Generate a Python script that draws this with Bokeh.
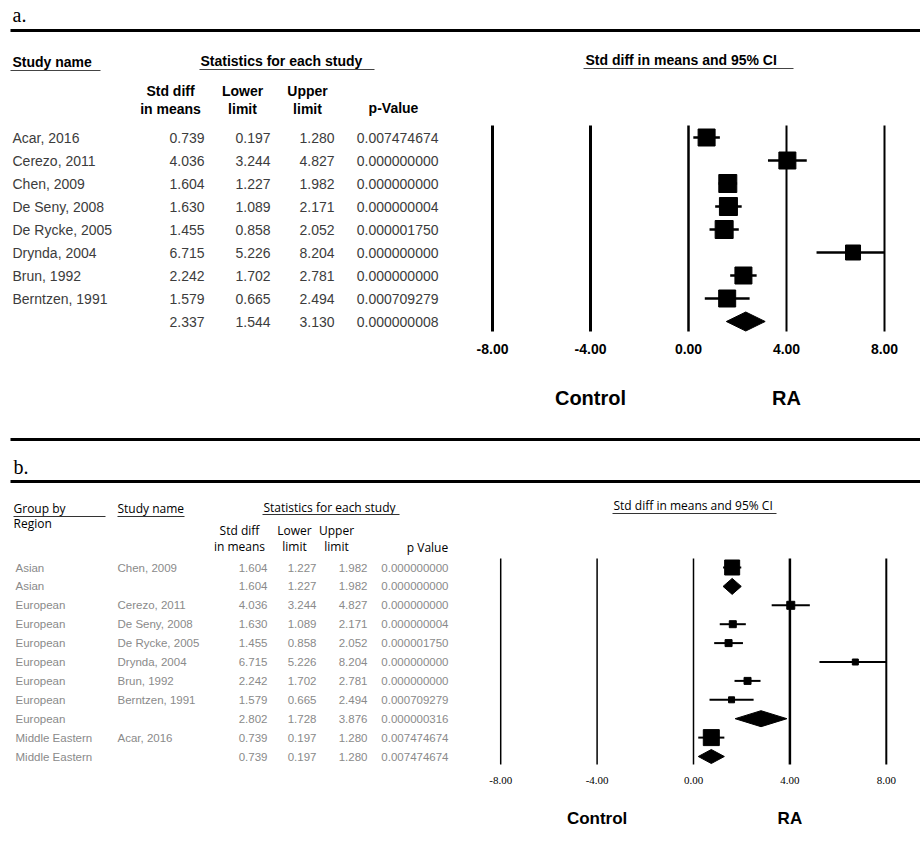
from bokeh.plotting import figure
from bokeh.models import Range1d, ColumnDataSource
from bokeh.core.properties import value
from bokeh.embed import file_html
from bokeh.resources import INLINE

# ---------------- data: panel a ----------------
studies_a = ["Acar, 2016", "Cerezo, 2011", "Chen, 2009", "De Seny, 2008",
             "De Rycke, 2005", "Drynda, 2004", "Brun, 1992", "Berntzen, 1991"]
smd_a = [0.739, 4.036, 1.604, 1.630, 1.455, 6.715, 2.242, 1.579]
lo_a = [0.197, 3.244, 1.227, 1.089, 0.858, 5.226, 1.702, 0.665]
hi_a = [1.280, 4.827, 1.982, 2.171, 2.052, 8.204, 2.781, 2.494]
p_a = ["0.007474674", "0.000000000", "0.000000000", "0.000000004",
       "0.000001750", "0.000000000", "0.000000000", "0.000709279"]
pooled_a = [2.337, 1.544, 3.130]
pooled_p_a = "0.000000008"

# ---------------- data: panel b ----------------
group_b = ["Asian", "Asian", "European", "European", "European", "European",
           "European", "European", "European", "Middle Eastern", "Middle Eastern"]
study_b = ["Chen, 2009", "", "Cerezo, 2011", "De Seny, 2008", "De Rycke, 2005",
           "Drynda, 2004", "Brun, 1992", "Berntzen, 1991", "", "Acar, 2016", ""]
smd_b = [1.604, 1.604, 4.036, 1.630, 1.455, 6.715, 2.242, 1.579, 2.802, 0.739, 0.739]
lo_b = [1.227, 1.227, 3.244, 1.089, 0.858, 5.226, 1.702, 0.665, 1.728, 0.197, 0.197]
hi_b = [1.982, 1.982, 4.827, 2.171, 2.052, 8.204, 2.781, 2.494, 3.876, 1.280, 1.280]
p_b = ["0.000000000", "0.000000000", "0.000000000", "0.000000004", "0.000001750",
       "0.000000000", "0.000000000", "0.000709279", "0.000000316", "0.007474674",
       "0.007474674"]
is_summary_b = [False, True, False, False, False, False, False, False, True, False, True]

ticks = [-8.0, -4.0, 0.0, 4.0, 8.0]
AX_MIN, AX_MAX = -8.0, 8.0

# marker sizes (px) as drawn in reference (study weights)
sq_size_a = [17, 17, 18, 18, 18, 15, 17, 17]
sq_size_b = [15, 0, 8, 7, 7, 6, 7, 6, 0, 16, 0]

# ---------------- layout helpers ----------------
OFF = 0
W, H = 920, 852
A_X0, A_SX, A_Y0, A_SY = 688.0, 24.5, 137.0, 23.0
B_X0, B_SX, B_Y0, B_SY = 693.0, 24.1, 567.0, 18.9


def ax(px):
    return (px - OFF - A_X0) / A_SX


def ay(py):
    return (py - OFF - A_Y0) / A_SY


def bx(px):
    return (px - OFF - B_X0) / B_SX


def by(py):
    return (py - OFF - B_Y0) / B_SY


p = figure(width=W, height=H,
           x_range=Range1d(ax(OFF), ax(OFF + W)),
           y_range=Range1d(ay(OFF + H), ay(OFF)),
           x_axis_location=None, y_axis_location=None,
           output_backend="svg", toolbar_location=None, min_border=0)
p.extra_x_ranges = {"xb": Range1d(bx(OFF), bx(OFF + W))}
p.extra_y_ranges = {"yb": Range1d(by(OFF + H), by(OFF))}
p.outline_line_color = None
p.background_fill_color = "white"
p.border_fill_color = "white"
p.xgrid.grid_line_color = None
p.ygrid.grid_line_color = None

B = dict(x_range_name="xb", y_range_name="yb")


def txt(xs, ys, ss, size, font="Liberation Sans", style="normal", color="black",
        align="left", panel="a"):
    kw = B if panel == "b" else {}
    p.text(x=xs, y=ys, text=ss, text_font=value(font), text_font_size=f"{size}px",
           text_font_style=style, text_color=color, text_align=align,
           text_baseline="middle", **kw)


def hline(x0, x1, y, w, panel="a", color="black"):
    kw = B if panel == "b" else {}
    p.segment(x0=[x0], y0=[y], x1=[x1], y1=[y], line_width=w, line_color=color, **kw)


# ================= PANEL A =================
txt([ax(12)], [ay(14)], ["a."], 20, font="Liberation Serif")
hline(ax(10), ax(922), ay(30), 3)

txt([ax(12)], [ay(61)], ["Study name"], 14, style="bold")
hline(ax(10), ax(100), ay(70), 1.2, color="#444")
txt([ax(200)], [ay(60)], ["Statistics for each study"], 14, style="bold")
hline(ax(199), ax(374), ay(69), 1.2, color="#444")
txt([ax(585)], [ay(59)], ["Std diff in means and 95% CI"], 14, style="bold")
hline(ax(583), ax(793), ay(68), 1.2, color="#444")

txt([ax(170), ax(170)], [ay(90), ay(108)], ["Std diff", "in means"], 14, style="bold", align="center")
txt([ax(242), ax(242)], [ay(90), ay(108)], ["Lower", "limit"], 14, style="bold", align="center")
txt([ax(307), ax(307)], [ay(90), ay(108)], ["Upper", "limit"], 14, style="bold", align="center")
txt([ax(393)], [ay(107)], ["p-Value"], 14, style="bold", align="center")

rows_a = list(range(len(studies_a)))
rows_all_a = rows_a + [len(studies_a)]
row_col = "#3c3c3c"
txt([ax(12)] * len(rows_a), rows_a, studies_a, 14, color=row_col)
txt([ax(204)] * len(rows_all_a), rows_all_a,
    [f"{v:.3f}" for v in smd_a + [pooled_a[0]]], 14, color=row_col, align="right")
txt([ax(270)] * len(rows_all_a), rows_all_a,
    [f"{v:.3f}" for v in lo_a + [pooled_a[1]]], 14, color=row_col, align="right")
txt([ax(334)] * len(rows_all_a), rows_all_a,
    [f"{v:.3f}" for v in hi_a + [pooled_a[2]]], 14, color=row_col, align="right")
txt([ax(438)] * len(rows_all_a), rows_all_a, p_a + [pooled_p_a], 14, color=row_col, align="right")

# forest a: reference lines
p.segment(x0=ticks, y0=[ay(125)] * 5, x1=ticks, y1=[ay(331)] * 5,
          line_width=[3, 3, 2.5, 2, 2], line_color="black")
ci_src_a = ColumnDataSource(dict(
    y=rows_a, lo=[max(v, AX_MIN) for v in lo_a], hi=[min(v, AX_MAX) for v in hi_a],
    est=smd_a, size=sq_size_a))
p.segment(x0="lo", y0="y", x1="hi", y1="y", source=ci_src_a, line_width=2.5, line_color="black")
p.scatter(x="est", y="y", size="size", marker="square", source=ci_src_a,
          fill_color="black", line_color="black")
ya = len(studies_a)
ha = 9.5 / A_SY
p.patch(x=[pooled_a[1], pooled_a[0], pooled_a[2], pooled_a[0]],
        y=[ya, ya - ha, ya, ya + ha], fill_color="black", line_color="black")

txt(ticks, [ay(348)] * 5, [f"{t:.2f}" for t in ticks], 14, style="bold", align="center")
txt([-4.0, 4.0], [ay(397), ay(397)], ["Control", "RA"], 20, style="bold", align="center")

hline(ax(10), ax(922), ay(439), 3)

# ================= PANEL B =================
txt([bx(13)], [by(466)], ["b."], 20, font="Liberation Serif", panel="b")
hline(bx(10), bx(922), by(481), 3, panel="b")

hf = "Open Sans"
txt([bx(13), bx(13)], [by(508), by(523)], ["Group by", "Region"], 12, font=hf, panel="b")
hline(bx(13), bx(105), by(516), 1, panel="b", color="#333")
txt([bx(117)], [by(508)], ["Study name"], 12, font=hf, panel="b")
hline(bx(117), bx(184), by(516), 1, panel="b", color="#333")
txt([bx(263)], [by(507)], ["Statistics for each study"], 12, font=hf, panel="b")
hline(bx(262), bx(399), by(514), 1, panel="b", color="#333")
txt([bx(613)], [by(505)], ["Std diff in means and 95% CI"], 12, font=hf, panel="b")
hline(bx(612), bx(776), by(513), 1, panel="b", color="#333")

txt([bx(239), bx(239)], [by(530), by(546)], ["Std diff", "in means"], 12, font=hf, align="center", panel="b")
txt([bx(294), bx(294)], [by(530), by(546)], ["Lower", "limit"], 12, font=hf, align="center", panel="b")
txt([bx(336), bx(336)], [by(530), by(546)], ["Upper", "limit"], 12, font=hf, align="center", panel="b")
txt([bx(427)], [by(547)], ["p Value"], 12, font=hf, align="center", panel="b")

rows_b = list(range(len(group_b)))
gcol = "#8a8a8a"
txt([bx(15)] * len(rows_b), rows_b, group_b, 11.5, color=gcol, panel="b")
txt([bx(117)] * len(rows_b), rows_b, study_b, 11.5, color=gcol, panel="b")
txt([bx(267)] * len(rows_b), rows_b, [f"{v:.3f}" for v in smd_b], 11.5, color=gcol, align="right", panel="b")
txt([bx(316)] * len(rows_b), rows_b, [f"{v:.3f}" for v in lo_b], 11.5, color=gcol, align="right", panel="b")
txt([bx(367)] * len(rows_b), rows_b, [f"{v:.3f}" for v in hi_b], 11.5, color=gcol, align="right", panel="b")
txt([bx(448)] * len(rows_b), rows_b, p_b, 11.5, color=gcol, align="right", panel="b")

p.segment(x0=ticks, y0=[by(558)] * 5, x1=ticks, y1=[by(764)] * 5,
          line_width=[1.5, 1.5, 1.5, 2.5, 2], line_color="black", **B)

study_rows = [i for i in rows_b if not is_summary_b[i]]
ci_src_b = ColumnDataSource(dict(
    y=study_rows,
    lo=[max(lo_b[i], AX_MIN) for i in study_rows],
    hi=[min(hi_b[i], AX_MAX) for i in study_rows],
    est=[smd_b[i] for i in study_rows],
    size=[sq_size_b[i] for i in study_rows]))
p.segment(x0="lo", y0="y", x1="hi", y1="y", source=ci_src_b, line_width=2,
          line_color="black", **B)
p.scatter(x="est", y="y", size="size", marker="square", source=ci_src_b,
          fill_color="black", line_color="black", **B)

sum_rows = [i for i in rows_b if is_summary_b[i]]
dia_h = {1: 8.0, 8: 8.0, 9: 7.0, 10: 7.0}
p.patches(xs=[[lo_b[i], smd_b[i], hi_b[i], smd_b[i]] for i in sum_rows],
          ys=[[i, i - dia_h[i] / B_SY, i, i + dia_h[i] / B_SY] for i in sum_rows],
          fill_color="black", line_color="black", **B)

txt(ticks, [by(780)] * 5, [f"{t:.2f}" for t in ticks], 11, font="Liberation Serif",
    align="center", panel="b")
txt([-4.0, 4.0], [by(818), by(818)], ["Control", "RA"], 17, style="bold", align="center", panel="b")

open("out.html", "w").write(file_html(p, INLINE))
